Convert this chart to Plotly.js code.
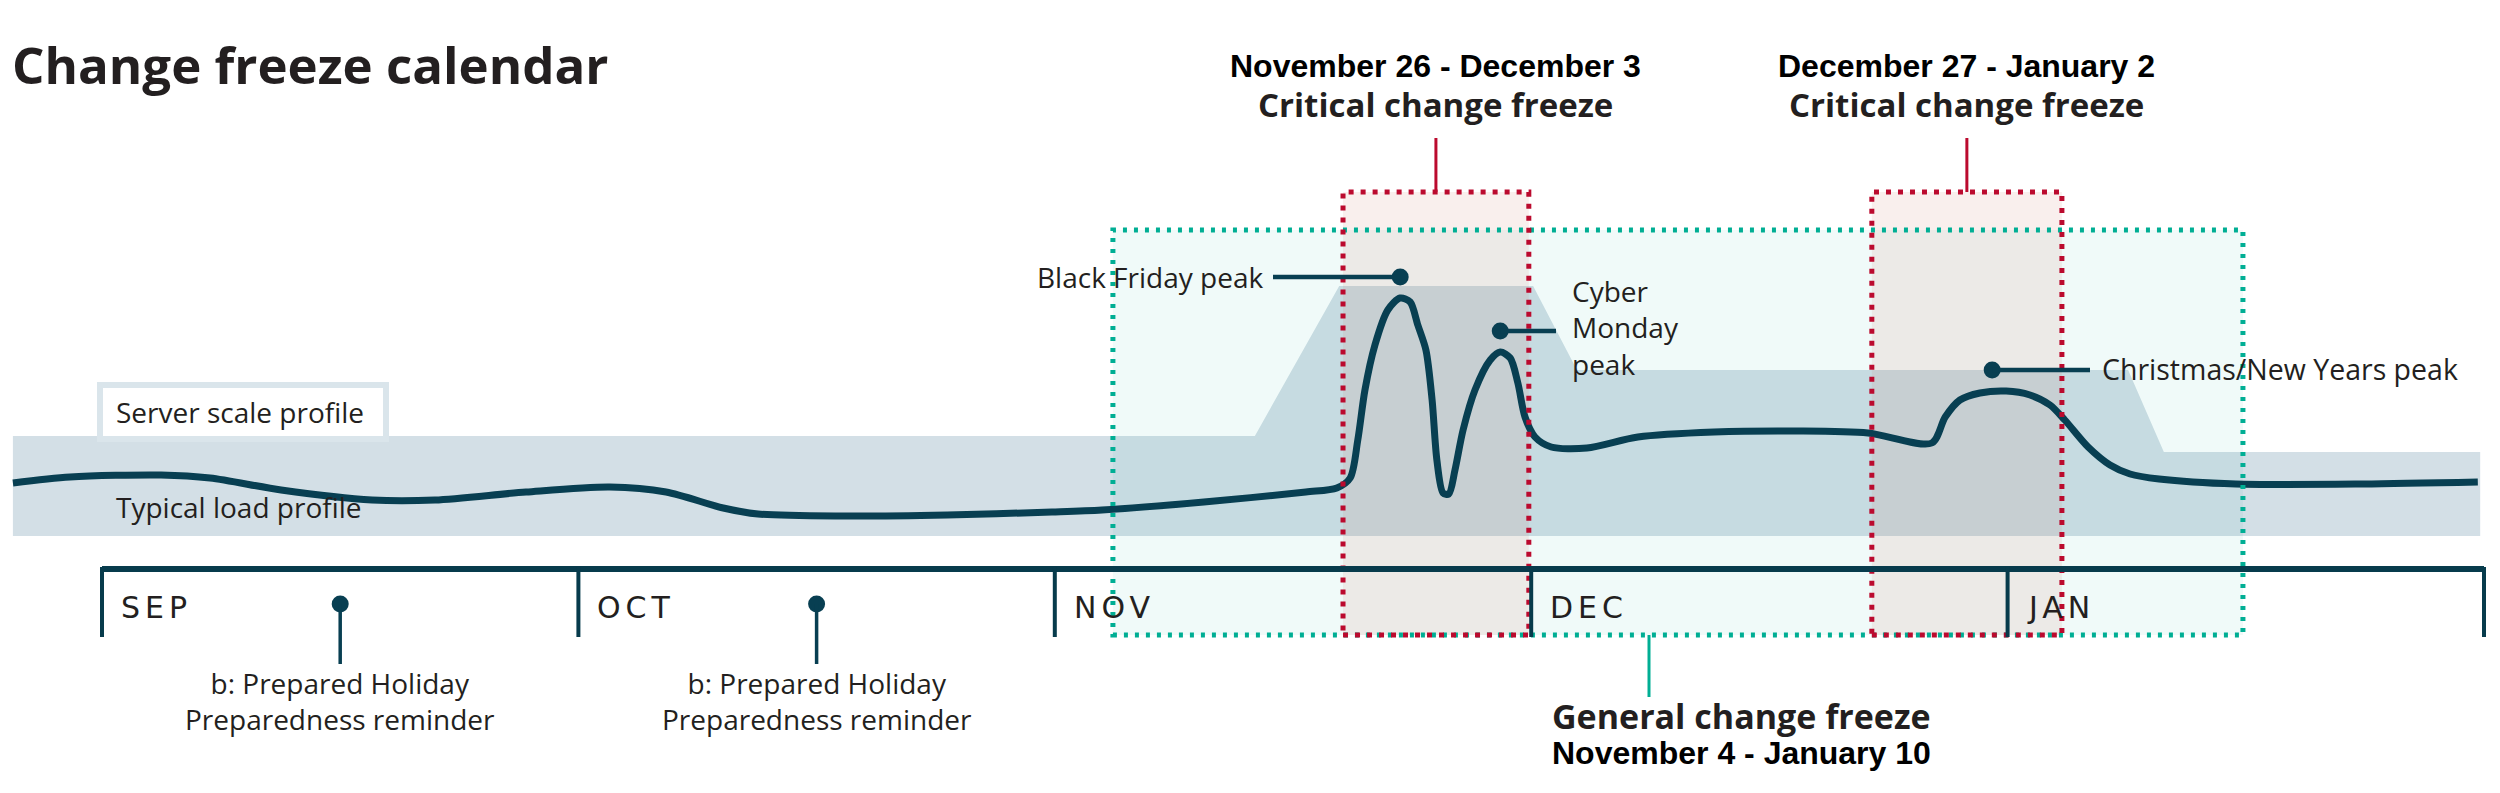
<!DOCTYPE html>
<html>
<head>
<meta charset="utf-8">
<script src="https://cdn.plot.ly/plotly-3.0.1.min.js"></script>
<style>
  html, body { margin: 0; padding: 0; background: #ffffff; }
  #chart { width: 2500px; height: 793px; }
  .annotation-text[style*="DejaVu"] { letter-spacing: 5px; }
</style>
</head>
<body>
<div id="chart"></div>
<script>
// ---------------- DATA ----------------
// x values are in "months since Sep 1" (each month drawn with equal width)
const months = ['SEP', 'OCT', 'NOV', 'DEC', 'JAN'];

// Typical load profile (load, % of peak server scale)
const loadX = [-0.187, -0.067, 0.124, 0.227, 0.376, 0.567, 0.699, 0.890, 1.066, 1.184, 1.304, 1.377,
  1.553, 1.774, 1.994, 2.099, 2.313, 2.527,
  2.592, 2.620, 2.636, 2.651, 2.672, 2.699, 2.725, 2.746, 2.762, 2.779, 2.792, 2.802, 2.815, 2.827,
  2.840, 2.857, 2.882, 2.914, 2.935, 2.956, 2.972, 2.987, 3.008, 3.042, 3.117,
  3.224, 3.384, 3.564, 3.707, 3.841, 3.869, 3.900, 3.942, 3.997, 4.047, 4.089, 4.120, 4.169, 4.215,
  4.257, 4.318, 4.479, 4.746, 4.987];
const loadY = [21.2, 23.6, 24.4, 23.2, 18.4, 14.4, 14.4, 17.6, 19.6, 17.6, 11.2, 8.8,
  8.0, 8.4, 9.6, 10.4, 13.6, 17.6,
  19.2, 23.2, 38.4, 58.4, 76.4, 90.4, 95.2, 93.6, 84.4, 74.4, 54.4, 30.4, 17.2, 16.8,
  26.4, 42.4, 58.4, 70.4, 73.6, 71.2, 61.2, 47.6, 39.6, 35.6, 35.2,
  39.6, 41.6, 42.0, 41.2, 37.2, 47.6, 54.4, 57.2, 58.0, 56.4, 52.4, 46.4, 35.6, 28.4,
  24.8, 22.8, 20.8, 20.8, 21.6];

// Server scale profile
const serverX = [-0.187, 2.420, 2.597, 3.004, 3.096, 4.253, 4.328, 4.992];
const serverY = [40, 40, 100, 100, 66.4, 66.4, 33.6, 33.6];

// Freeze windows (months since Sep 1)
const generalStart = 2.122, generalEnd = 4.494;
const criticalStart = [2.605, 3.715];
const criticalEnd = [2.995, 4.114];
const criticalDates = ['November 26 - December 3', 'December 27 - January 2'];
const generalDates = 'November 4 - January 10';

// Peak callouts: [search window start, end]
const peakNames = ['Black Friday peak', 'Cyber<br>Monday<br>peak', 'Christmas/New Years peak'];
const peakWinStart = [2.6, 2.85, 3.85];
const peakWinEnd = [2.8, 3.0, 4.2];

// Reminders (month index)
const reminderMonths = [0, 1];
const reminderText = 'b: Prepared Holiday<br>Preparedness reminder';

// ---------------- LAYOUT HELPERS (pixel calibration) ----------------
const W = 2500, H = 793;
const PX0 = 102, PXM = 476.4, PY0 = 536, PYU = 2.5;
const X = px => (px - PX0) / PXM;
const Y = py => (PY0 - py) / PYU;
const dx = p => p / PXM;
const dy = p => p / PYU;

const DARK = '#083f52';
const LINE_DARK = '#073b4c';
const TEAL = '#00ae94';
const RED = '#bb0a2e';
const TXT = '#231f20';
const BAND = '#d3dfe6';

function peakIdx(a, b) {
  let best = -1;
  for (let i = 0; i < loadX.length; i++) {
    if (loadX[i] >= a && loadX[i] <= b && (best < 0 || loadY[i] > loadY[best])) best = i;
  }
  return best;
}

const boxTop = { g: Y(230), r: Y(192) };
const boxBottom = Y(635);

const traces = [];
// server scale band
traces.push({
  x: serverX, y: serverY, type: 'scatter', mode: 'lines', fill: 'tozeroy',
  fillcolor: BAND, line: { width: 0, color: BAND }, hoverinfo: 'skip', showlegend: false
});
// general freeze fill
traces.push({
  x: [generalStart, generalEnd, generalEnd, generalStart, generalStart],
  y: [boxTop.g, boxTop.g, boxBottom, boxBottom, boxTop.g],
  type: 'scatter', mode: 'lines', fill: 'toself', fillcolor: 'rgba(0,170,150,0.06)',
  line: { width: 0 }, hoverinfo: 'skip', showlegend: false
});
// critical freeze fills
for (let i = 0; i < criticalStart.length; i++) {
  traces.push({
    x: [criticalStart[i], criticalEnd[i], criticalEnd[i], criticalStart[i], criticalStart[i]],
    y: [boxTop.r, boxTop.r, boxBottom, boxBottom, boxTop.r],
    type: 'scatter', mode: 'lines', fill: 'toself', fillcolor: 'rgba(211,128,113,0.13)',
    line: { width: 0 }, hoverinfo: 'skip', showlegend: false
  });
}
// load line
traces.push({
  x: loadX, y: loadY, type: 'scatter', mode: 'lines',
  line: { color: DARK, width: 7, shape: 'spline', smoothing: 0.8 },
  hoverinfo: 'skip', showlegend: false
});

// peak dots
const pk = peakWinStart.map((a, i) => peakIdx(a, peakWinEnd[i]));
const dotX = pk.map((k, i) => loadX[k] + (i === 2 ? dx(-14) : 0));
const dotY = pk.map(k => loadY[k] + dy(21));
const remX = reminderMonths.map(m => m + 0.5);
const remY = reminderMonths.map(() => Y(604));
traces.push({
  x: dotX.concat(remX), y: dotY.concat(remY), type: 'scatter', mode: 'markers',
  marker: { color: DARK, size: 17 }, hoverinfo: 'skip', showlegend: false
});

// ---------------- SHAPES ----------------
const shapes = [];
// server scale label box
shapes.push({ type: 'rect', xref: 'x', yref: 'y', x0: X(100), x1: X(386), y0: Y(385), y1: Y(439),
  line: { color: '#dae5eb', width: 6 }, fillcolor: '#ffffff', layer: 'above' });
// general freeze border
shapes.push({ type: 'rect', x0: generalStart, x1: generalEnd, y0: boxBottom, y1: boxTop.g,
  line: { color: TEAL, width: 5, dash: '4px,7px' }, fillcolor: 'rgba(0,0,0,0)' });
// critical borders + connectors
for (let i = 0; i < criticalStart.length; i++) {
  shapes.push({ type: 'rect', x0: criticalStart[i], x1: criticalEnd[i], y0: boxBottom, y1: boxTop.r,
    line: { color: RED, width: 5, dash: '5px,7px' }, fillcolor: 'rgba(0,0,0,0)' });
  const cx = (criticalStart[i] + criticalEnd[i]) / 2;
  shapes.push({ type: 'line', x0: cx, x1: cx, y0: boxTop.r, y1: Y(138), line: { color: RED, width: 3 } });
}
// general connector
const gcx = X(1649);
shapes.push({ type: 'line', x0: gcx, x1: gcx, y0: boxBottom, y1: Y(697), line: { color: TEAL, width: 3 } });
// timeline
shapes.push({ type: 'line', x0: 0, x1: months.length, y0: Y(569), y1: Y(569), line: { color: LINE_DARK, width: 6 } });
for (let i = 0; i <= months.length; i++) {
  shapes.push({ type: 'line', x0: i, x1: i, y0: Y(567), y1: Y(637), line: { color: LINE_DARK, width: 4 } });
}
// reminder stems
remX.forEach((x, i) => {
  shapes.push({ type: 'line', x0: x, x1: x, y0: remY[i], y1: Y(664), line: { color: DARK, width: 3.5 } });
});
// peak callout lines
shapes.push({ type: 'line', x0: X(1273), x1: dotX[0], y0: dotY[0], y1: dotY[0], line: { color: DARK, width: 4.5 } });
shapes.push({ type: 'line', x0: dotX[1], x1: X(1556), y0: dotY[1], y1: dotY[1], line: { color: DARK, width: 4.5 } });
shapes.push({ type: 'line', x0: dotX[2], x1: X(2090), y0: dotY[2], y1: dotY[2], line: { color: DARK, width: 4.5 } });

// ---------------- ANNOTATIONS ----------------
const ann = [];
const A = (text, x, y, xanchor, font, align) => ann.push({
  text: text, x: x, y: y, xref: 'x', yref: 'y', xanchor: xanchor, yanchor: 'middle',
  align: align || xanchor, showarrow: false, font: font, borderpad: 0, borderwidth: 0
});
const fReg = { family: 'Open Sans', size: 28, color: TXT };
const fBold = { family: 'Open Sans', size: 33, color: TXT, weight: 700 };
const fDate = { family: 'Liberation Sans', size: 32, color: '#000000', weight: 700 };
const fMonth = { family: 'DejaVu Sans', size: 30, color: TXT };

// month labels
months.forEach((m, i) => A(m, i + dx(19), Y(607), 'left', fMonth));
// critical labels
criticalDates.forEach((d, i) => {
  const cx = (criticalStart[i] + criticalEnd[i]) / 2;
  A(d, cx, Y(66), 'center', fDate);
  A('Critical change freeze', cx, Y(104), 'center', fBold);
});
// general labels
A('General change freeze', gcx + dx(92), Y(716), 'center', Object.assign({}, fBold, { size: 34 }));
A(generalDates, gcx + dx(92), Y(753), 'center', fDate);
// peaks
A(peakNames[0], X(1263), dotY[0], 'right', fReg);
A(peakNames[1], X(1572), Y(327), 'left', fReg);
A(peakNames[2], X(2102), Y(369), 'left', Object.assign({}, fReg, { size: 28.5 }));
// band labels
A('Server scale profile', X(116), Y(412), 'left', fReg);
A('Typical load profile', X(116), Y(507), 'left', fReg);
// reminders
remX.forEach(x => A(reminderText, x, Y(701), 'center', fReg));

const layout = {
  width: W, height: H,
  margin: { l: 0, r: 0, t: 0, b: 0, pad: 0 },
  paper_bgcolor: '#ffffff', plot_bgcolor: 'rgba(0,0,0,0)',
  showlegend: false,
  title: { text: 'Change freeze calendar', x: 12 / W, xanchor: 'left', xref: 'paper',
    y: 1 - 66 / H, yanchor: 'middle', yref: 'paper',
    font: { family: 'Open Sans', size: 51, color: TXT, weight: 700 } },
  xaxis: { range: [X(0), X(W)], visible: false, fixedrange: true },
  yaxis: { range: [Y(H), Y(0)], visible: false, fixedrange: true },
  shapes: shapes,
  annotations: ann
};

Plotly.newPlot('chart', traces, layout, { displayModeBar: false, staticPlot: true });
</script>
</body>
</html>
